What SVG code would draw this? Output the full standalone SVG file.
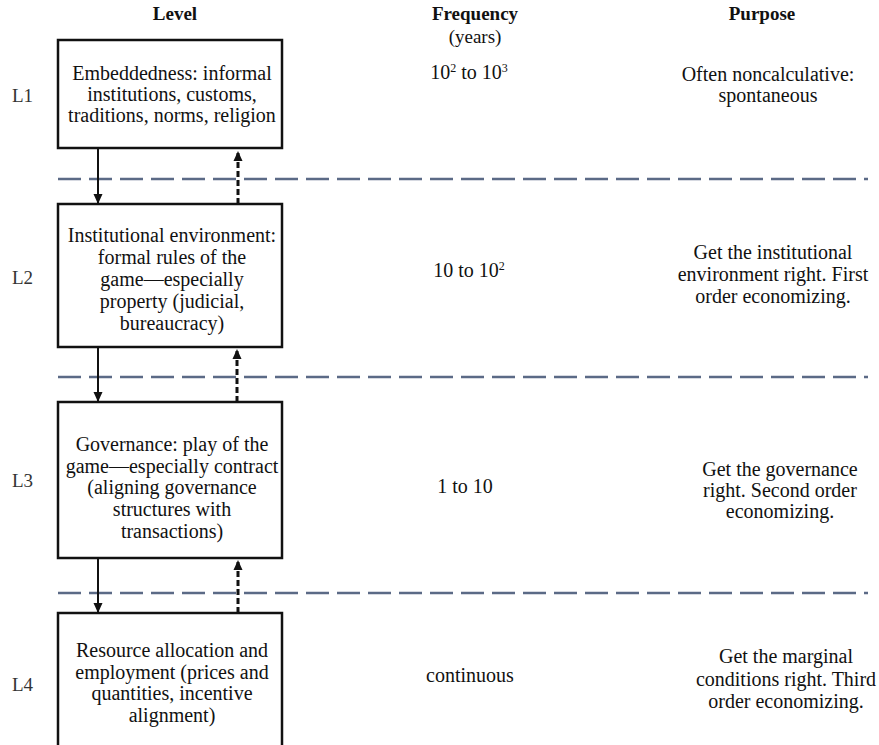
<svg xmlns="http://www.w3.org/2000/svg" width="879" height="745" viewBox="0 0 879 745">
<style>
text{font-family:"Liberation Serif","Times New Roman",serif;fill:#111;}
.h{font-size:19px;font-weight:bold;text-anchor:middle;}
.t{font-size:20px;text-anchor:middle;}
.lv{font-size:19px;fill:#333;}
.box{fill:#fff;stroke:#111;stroke-width:2.5;}
.sep{stroke:#5b6a86;stroke-width:2.5;stroke-dasharray:23 8;fill:none;}
.down{stroke:#111;stroke-width:2;fill:none;}
.up{stroke:#111;stroke-width:3;stroke-dasharray:6 3;fill:none;}
.sup{font-size:12px;}
</style>
<defs>
<marker id="ah" markerWidth="10" markerHeight="10" refX="9" refY="5" orient="auto" markerUnits="userSpaceOnUse">
<path d="M0,0.5 L10,5 L0,9.5 Z" fill="#111"/>
</marker>
</defs>
<rect width="879" height="745" fill="#fff"/>
<g id="headers">
<text class="h" x="175" y="20">Level</text>
<text class="h" x="475" y="20">Frequency</text>
<text class="t" x="475" y="43" style="font-size:19px">(years)</text>
<text class="h" x="762" y="20">Purpose</text>
</g>
<g id="separators">
<line class="sep" x1="58" y1="179" x2="868" y2="179"/>
<line class="sep" x1="58" y1="377" x2="868" y2="377"/>
<line class="sep" x1="58" y1="593" x2="868" y2="593"/>
</g>
<g id="row1">
<text class="lv" x="12" y="102">L1</text>
<g id="node-L1">
<rect class="box" x="58" y="40" width="224" height="108"/>
<text class="t" x="172" y="80">Embeddedness: informal</text>
<text class="t" x="172" y="101">institutions, customs,</text>
<text class="t" x="172" y="122">traditions, norms, religion</text>
</g>
<text class="t" x="469" y="79">10<tspan class="sup" dy="-7">2</tspan><tspan dy="7"> to 10</tspan><tspan class="sup" dy="-7">3</tspan></text>
<text class="t" x="768" y="81">Often noncalculative:</text>
<text class="t" x="768" y="102">spontaneous</text>
</g>
<g id="row2">
<text class="lv" x="12" y="284">L2</text>
<g id="node-L2">
<rect class="box" x="58" y="204" width="224" height="143"/>
<text class="t" x="172" y="242">Institutional environment:</text>
<text class="t" x="172" y="264">formal rules of the</text>
<text class="t" x="172" y="286">game—especially</text>
<text class="t" x="172" y="308">property (judicial,</text>
<text class="t" x="172" y="330">bureaucracy)</text>
</g>
<text class="t" x="469" y="277">10 to 10<tspan class="sup" dy="-7">2</tspan></text>
<text class="t" x="773" y="259">Get the institutional</text>
<text class="t" x="773" y="281">environment right. First</text>
<text class="t" x="773" y="303">order economizing.</text>
</g>
<g id="row3">
<text class="lv" x="12" y="487">L3</text>
<g id="node-L3">
<rect class="box" x="58" y="402" width="224" height="156"/>
<text class="t" x="172" y="451">Governance: play of the</text>
<text class="t" x="172" y="473">game—especially contract</text>
<text class="t" x="172" y="494">(aligning governance</text>
<text class="t" x="172" y="516">structures with</text>
<text class="t" x="172" y="538">transactions)</text>
</g>
<text class="t" x="465" y="493">1 to 10</text>
<text class="t" x="780" y="476">Get the governance</text>
<text class="t" x="780" y="497">right. Second order</text>
<text class="t" x="780" y="518">economizing.</text>
</g>
<g id="row4">
<text class="lv" x="12" y="691">L4</text>
<g id="node-L4">
<rect class="box" x="58" y="613" width="224" height="140"/>
<text class="t" x="172" y="657">Resource allocation and</text>
<text class="t" x="172" y="679">employment (prices and</text>
<text class="t" x="172" y="700">quantities, incentive</text>
<text class="t" x="172" y="722">alignment)</text>
</g>
<text class="t" x="470" y="682">continuous</text>
<text class="t" x="786" y="663">Get the marginal</text>
<text class="t" x="786" y="686">conditions right. Third</text>
<text class="t" x="786" y="708">order economizing.</text>
</g>
<g id="connectors">
<line class="down" x1="98" y1="149" x2="98" y2="203" marker-end="url(#ah)"/>
<line class="up" x1="238" y1="204" x2="238" y2="152" marker-end="url(#ah)"/>
<line class="down" x1="98" y1="348" x2="98" y2="401" marker-end="url(#ah)"/>
<line class="up" x1="237" y1="402" x2="237" y2="350" marker-end="url(#ah)"/>
<line class="down" x1="98" y1="559" x2="98" y2="612" marker-end="url(#ah)"/>
<line class="up" x1="238" y1="613" x2="238" y2="561" marker-end="url(#ah)"/>
</g>
</svg>
